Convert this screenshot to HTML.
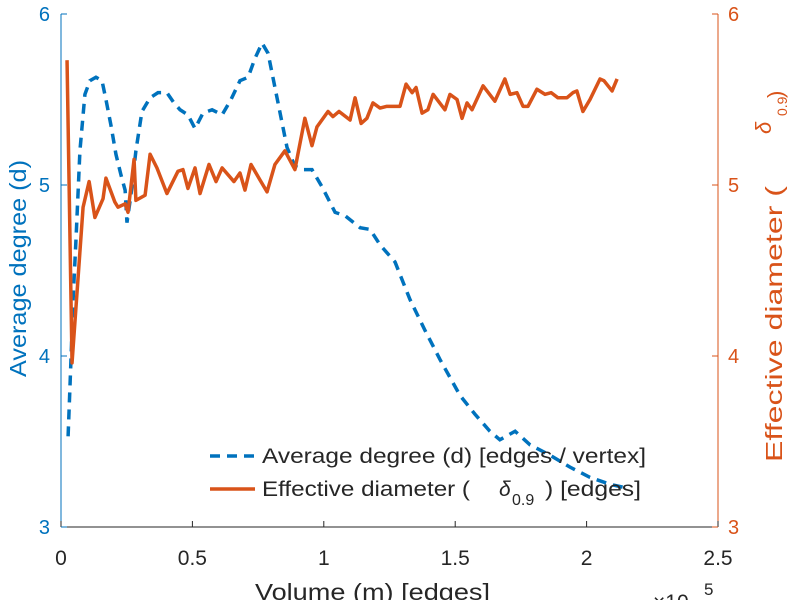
<!DOCTYPE html>
<html><head><meta charset="utf-8"><style>
body{margin:0;background:#fff;}
svg{display:block;font-family:"Liberation Sans",sans-serif;}
</style></head><body>
<svg id="chart" width="795" height="600" viewBox="0 0 795 600"></svg>
<script>
const xTicks=[0,0.5,1,1.5,2,2.5];
const xTickLabels=["0","0.5","1","1.5","2","2.5"];
const yTicks=[3,4,5,6];
const yTickLabels=["3","4","5","6"];
const degX=[0.027,0.038,0.046,0.057,0.072,0.091,0.110,0.133,0.156,0.171,0.190,0.209,0.228,0.244,0.251,0.266,0.285,0.308,0.339,0.369,0.403,0.430,0.453,0.483,0.510,0.540,0.575,0.613,0.647,0.681,0.712,0.738,0.765,0.788,0.822,0.860,0.890,0.921,0.955,0.993,1.043,1.081,1.138,1.176,1.214,1.271,1.328,1.385,1.442,1.518,1.575,1.632,1.670,1.728,1.785,1.861,1.937,2.013,2.089,2.146];
const degY=[3.53,3.98,4.33,4.68,5.20,5.53,5.61,5.63,5.61,5.50,5.35,5.18,5.06,4.97,4.78,4.94,5.20,5.43,5.51,5.54,5.54,5.48,5.44,5.41,5.33,5.42,5.44,5.41,5.50,5.61,5.63,5.74,5.83,5.77,5.51,5.22,5.11,5.09,5.09,4.99,4.84,4.82,4.75,4.74,4.65,4.55,4.33,4.15,3.98,3.77,3.66,3.56,3.51,3.56,3.48,3.42,3.35,3.29,3.25,3.23];
const diaX=[0.023,0.042,0.084,0.107,0.129,0.160,0.171,0.205,0.217,0.244,0.255,0.278,0.285,0.320,0.339,0.365,0.403,0.445,0.464,0.483,0.510,0.529,0.563,0.590,0.613,0.658,0.681,0.700,0.723,0.757,0.784,0.814,0.852,0.890,0.928,0.955,0.974,1.016,1.035,1.058,1.100,1.119,1.142,1.164,1.187,1.214,1.240,1.290,1.313,1.336,1.351,1.374,1.396,1.416,1.461,1.480,1.507,1.526,1.545,1.564,1.606,1.651,1.689,1.709,1.735,1.758,1.777,1.811,1.842,1.865,1.891,1.925,1.948,1.963,1.986,2.013,2.051,2.066,2.097,2.116];
const diaY=[5.73,3.96,4.87,5.02,4.81,4.92,5.04,4.90,4.87,4.89,4.84,5.15,4.91,4.94,5.18,5.10,4.95,5.08,5.09,4.98,5.10,4.95,5.12,5.02,5.10,5.02,5.07,4.97,5.12,5.03,4.96,5.12,5.20,5.09,5.39,5.23,5.34,5.43,5.40,5.43,5.38,5.51,5.36,5.39,5.48,5.45,5.46,5.46,5.59,5.54,5.57,5.42,5.44,5.53,5.44,5.53,5.50,5.39,5.48,5.44,5.58,5.49,5.62,5.53,5.54,5.46,5.46,5.56,5.53,5.54,5.51,5.51,5.54,5.55,5.43,5.50,5.62,5.61,5.55,5.62];

const NS="http://www.w3.org/2000/svg";
const svg=document.getElementById('chart');
const X0=61,X1=718,Y0=527,Y1=14;
const sx=v=>X0+(v-0)/(2.5-0)*(X1-X0);
const sy=v=>Y0-(v-3)/(6-3)*(Y0-Y1);
const BLUE="#0072BD",ORANGE="#D95319";
function mk(tag,attrs,txt){const e=document.createElementNS(NS,tag);for(const k in attrs)e.setAttribute(k,attrs[k]);if(txt!==undefined)e.textContent=txt;svg.appendChild(e);return e;}

let e=mk('line',{x1:X0,y1:Y0,x2:X1,y2:Y0,stroke:'#262626','stroke-width':1});


e=mk('line',{x1:X0,y1:Y1,x2:X0,y2:Y0,stroke:BLUE,'stroke-width':1});


e=mk('line',{x1:X1,y1:Y1,x2:X1,y2:Y0,stroke:ORANGE,'stroke-width':1});



xTicks.forEach((t,i)=>{
  const x=sx(t);
  let l=mk('line',{x1:x,y1:Y0,x2:x,y2:Y0-6,stroke:'#262626'});
  
  
  let tx=mk('text',{x:x,y:Y0+38,'text-anchor':'middle','font-size':21,fill:'#262626'},xTickLabels[i]);
  
  
});
yTicks.forEach((t,i)=>{
  const y=sy(t);
  let l=mk('line',{x1:X0,y1:y,x2:X0+6,y2:y,stroke:BLUE});
  
  
  let tx=mk('text',{x:X0-11,y:y+7,'text-anchor':'end','font-size':20,fill:BLUE},yTickLabels[i]);
  
  
  l=mk('line',{x1:X1,y1:y,x2:X1-6,y2:y,stroke:ORANGE});
  
  
  tx=mk('text',{x:X1+10,y:y+7,'text-anchor':'start','font-size':20,fill:ORANGE},yTickLabels[i]);
  
  
});

let p=mk('polyline',{points:degX.map((x,i)=>sx(x)+','+sy(degY[i])).join(' '),fill:'none',stroke:BLUE,'stroke-width':3.5,'stroke-dasharray':'10,7'});


p=mk('polyline',{points:diaX.map((x,i)=>sx(x)+','+sy(diaY[i])).join(' '),fill:'none',stroke:ORANGE,'stroke-width':3.5,'stroke-linejoin':'round'});



e=mk('line',{x1:210,y1:456,x2:255,y2:456,stroke:BLUE,'stroke-width':3.5,'stroke-dasharray':'10,7'});


e=mk('text',{x:262,y:463,'font-size':21,fill:'#262626',textLength:384,lengthAdjust:'spacingAndGlyphs'},'Average degree (d) [edges / vertex]');


e=mk('line',{x1:210,y1:489,x2:255,y2:489,stroke:ORANGE,'stroke-width':3.5});


e=mk('text',{x:262,y:496,'font-size':21,fill:'#262626',textLength:208,lengthAdjust:'spacingAndGlyphs'},'Effective diameter (');


e=mk('text',{x:499,y:496,'font-size':21,'font-style':'italic',fill:'#262626'},'δ');


e=mk('text',{x:512,y:505,'font-size':16,fill:'#262626'},'0.9');


e=mk('text',{x:545,y:496,'font-size':21,fill:'#262626',textLength:96,lengthAdjust:'spacingAndGlyphs'},') [edges]');



e=mk('text',{x:255,y:600,'font-size':23,fill:'#262626',textLength:235,lengthAdjust:'spacingAndGlyphs'},'Volume (m) [edges]');


e=mk('text',{x:653,y:609,'font-size':21,fill:'#262626'},'×10');


e=mk('text',{x:704,y:595,'font-size':17,fill:'#262626'},'5');


e=mk('text',{x:0,y:0,'font-size':23,fill:BLUE,textLength:217,lengthAdjust:'spacingAndGlyphs',transform:'translate(26,377) rotate(-90)'},'Average degree (d)');


e=mk('text',{x:0,y:0,'font-size':23,fill:ORANGE,textLength:276,lengthAdjust:'spacingAndGlyphs',transform:'translate(782,462) rotate(-90)'},'Effective diameter (');


e=mk('text',{x:0,y:0,'font-size':22,'font-style':'italic',fill:ORANGE,transform:'translate(771,134) rotate(-90)'},'δ');


e=mk('text',{x:0,y:0,'font-size':14,fill:ORANGE,transform:'translate(787,116) rotate(-90)'},'0.9');


e=mk('text',{x:0,y:0,'font-size':22,fill:ORANGE,transform:'translate(783,98) rotate(-90)'},')');


</script>
</body></html>
